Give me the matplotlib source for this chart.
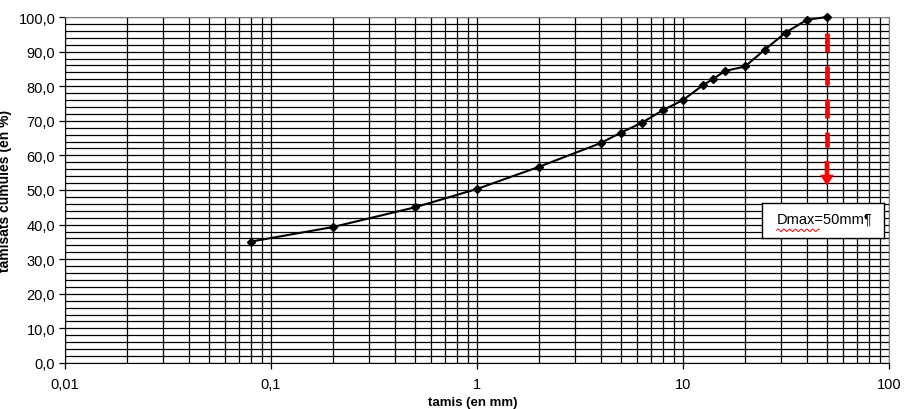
import numpy as np
import matplotlib.pyplot as plt
from matplotlib.ticker import FuncFormatter, MultipleLocator, LogLocator

plt.rcParams['font.family'] = ['Liberation Sans', 'DejaVu Sans']

# sieve sizes (mm) and cumulative passing (%)
tamis = [0.08, 0.2, 0.5, 1, 2, 4, 5, 6.3, 8, 10, 12.5, 14, 16, 20, 25, 31.5, 40, 50]
passant = [35.1, 39.3, 45.0, 50.3, 56.7, 63.6, 66.6, 69.4, 73.1, 76.0, 80.3, 82.1,
           84.4, 85.7, 90.6, 95.5, 99.2, 100.0]

dmax = 50
arrow_top = 95.4
dash_end = 62.4
head_start = 58.4
arrow_bottom = 51.2

fig = plt.figure(figsize=(9.05, 4.10), dpi=100)
ax = fig.add_axes([65 / 905, (410 - 364) / 410, (889 - 65) / 905, (364 - 18) / 410])

ax.set_xscale('log')
ax.set_xlim(0.01, 100)
ax.set_ylim(0, 100)

# grid: every decade subdivision on x, every 2 % on y
ax.xaxis.set_major_locator(LogLocator(base=10, numticks=10))
ax.xaxis.set_minor_locator(LogLocator(base=10, subs=np.arange(2, 10), numticks=20))
ax.yaxis.set_major_locator(MultipleLocator(10))
ax.yaxis.set_minor_locator(MultipleLocator(2))
ax.grid(True, which='both', color='black', linewidth=0.9)
ax.set_axisbelow(True)

ax.xaxis.set_major_formatter(FuncFormatter(lambda v, p: ('%g' % v).replace('.', ',')))
ax.yaxis.set_major_formatter(FuncFormatter(lambda v, p: ('%.1f' % v).replace('.', ',')))
ax.tick_params(which='major', length=4, width=0.9, labelsize=10.5, colors='black', pad=3)
ax.tick_params(axis='x', pad=6)
ax.tick_params(which='minor', length=0)

for s in ['top', 'right']:
    ax.spines[s].set_color('#808080')
for s in ['left', 'bottom']:
    ax.spines[s].set_color('black')

ax.plot(tamis, passant, color='black', linewidth=1.5, marker='D', markersize=4,
        zorder=5, clip_on=False)

# red dashed arrow at Dmax
ax.plot([dmax, dmax], [arrow_top, dash_end], color='#ff0000', linewidth=3.4,
        dashes=(4.0, 3.0), zorder=6, solid_capstyle='butt', dash_capstyle='butt')
ax.annotate('', xy=(dmax, arrow_bottom), xytext=(dmax, head_start),
            arrowprops=dict(width=3.4, headwidth=10, headlength=8,
                            color='#ff0000', linewidth=0, shrink=0),
            zorder=6)

# text box
box = fig.add_axes([762 / 905, (410 - 239) / 410, (884 - 762) / 905, (239 - 204) / 410])
box.set_xticks([])
box.set_yticks([])
for s in box.spines.values():
    s.set_color('black')
    s.set_linewidth(1)
box.text(0.12, 0.55, 'Dmax=50mm¶', fontsize=10.5, va='center', ha='left',
         transform=box.transAxes)
wx = np.linspace(0.12, 0.47, 30)
wy = 0.22 + 0.04 * np.sin(np.arange(30) * 1.6)
box.plot(wx, wy, color='#ff0000', linewidth=0.7, transform=box.transAxes)

ax.set_ylabel('tamisats cumulés (en %)', fontsize=10, fontweight='bold')
ax.set_xlabel('tamis (en mm)', fontsize=9.5, fontweight='bold')
ax.yaxis.set_label_coords(-0.064, 0.5)
ax.xaxis.set_label_coords(0.495, -0.095)

fig.savefig('out.png', dpi=100)
